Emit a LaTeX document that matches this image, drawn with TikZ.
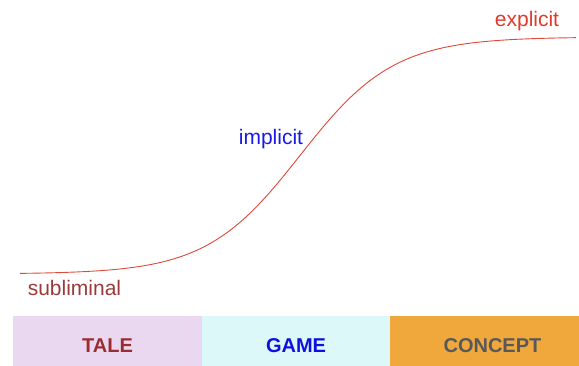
\documentclass[tikz,border=0pt]{standalone}
\usepackage{fontspec}
\setmainfont{Liberation Sans}
\definecolor{curvered}{HTML}{E0483A}
\definecolor{sublred}{HTML}{9B3A3A}
\definecolor{impblue}{HTML}{1A1AE6}
\definecolor{expred}{HTML}{E03A2A}
\definecolor{talebg}{HTML}{E9D8F0}
\definecolor{gamebg}{HTML}{DDF8F9}
\definecolor{conceptbg}{HTML}{F0A73B}
\definecolor{taletext}{HTML}{9B2D30}
\definecolor{gametext}{HTML}{0F0FE0}
\definecolor{concepttext}{HTML}{56595C}
\tikzset{
  level/.style={anchor=base, font=\fontsize{21}{25}\selectfont},
  band/.style={anchor=base, font=\fontsize{20}{24}\selectfont\bfseries},
}
\begin{document}
\begin{tikzpicture}[x=1pt,y=-1pt]
\useasboundingbox (0,0) rectangle (579,366);
% bands along the bottom
\fill [talebg] (13,316) rectangle (202,366);
\fill [gamebg] (202,316) rectangle (390,366);
\fill [conceptbg] (390,316) rectangle (579,366);
\node [band, text=taletext] (tale) at (107.5,353) {TALE};
\node [band, text=gametext] (game) at (296,353) {GAME};
\node [band, text=concepttext] (concept) at (492.5,353) {CONCEPT};
% the rising curve
\draw [curvered, line width=0.9pt] plot [domain=20:576, samples=120, smooth]
      (\x, {274-237/(1+exp(-(\x-300)/47))});
\node [level, text=sublred] (subliminal) at (74.5,296) {subliminal};
\node [level, text=impblue] (implicit) at (271,145) {implicit};
\node [level, text=expred] (explicit) at (527,27) {explicit};
\end{tikzpicture}
\end{document}
